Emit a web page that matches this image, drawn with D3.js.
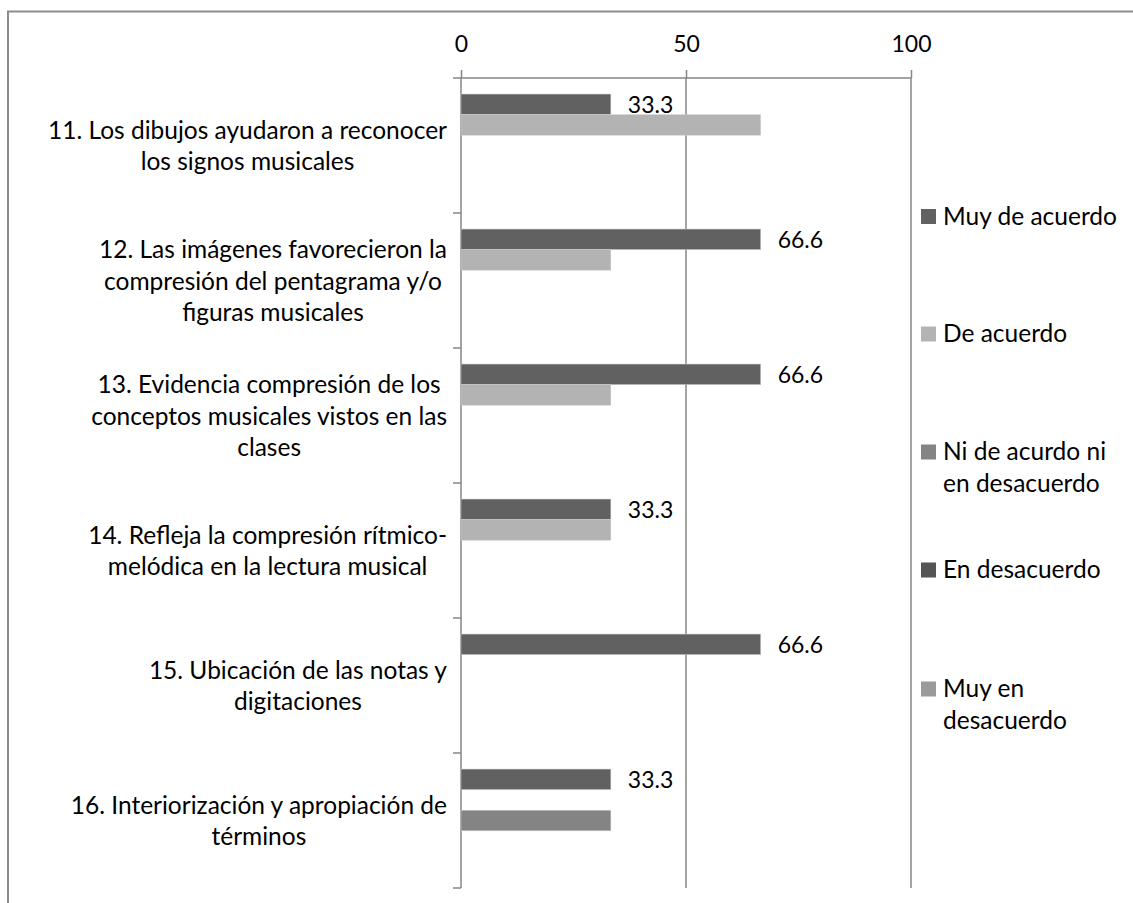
<!DOCTYPE html>
<html><head><meta charset="utf-8">
<script src="https://cdn.jsdelivr.net/npm/d3@7"></script>
<style>html,body{margin:0;padding:0;background:#fff;overflow:hidden}</style>
</head><body>
<script>
const categories = [
  ["11. Los dibujos ayudaron a reconocer","los signos musicales"],
  ["12. Las imágenes favorecieron la","compresión del pentagrama y/o","figuras musicales"],
  ["13. Evidencia compresión de los","conceptos musicales vistos en las","clases"],
  ["14. Refleja la compresión rítmico-","melódica en la lectura musical"],
  ["15. Ubicación de las notas y","digitaciones"],
  ["16. Interiorización y apropiación de","términos"]
];
const seriesNames = [
  ["Muy de acuerdo"],
  ["De acuerdo"],
  ["Ni de acurdo ni","en desacuerdo"],
  ["En desacuerdo"],
  ["Muy en","desacuerdo"]
];
const muyDeAcuerdo   = [33.3, 66.6, 66.6, 33.3, 66.6, 33.3];
const deAcuerdo      = [66.6, 33.3, 33.3, 33.3, 0, 0];
const niDeAcuerdo    = [0, 0, 0, 0, 0, 33.3];
const enDesacuerdo   = [0, 0, 0, 0, 0, 0];
const muyEnDesacuerdo= [0, 0, 0, 0, 0, 0];
const seriesValues = [muyDeAcuerdo, deAcuerdo, niDeAcuerdo, enDesacuerdo, muyEnDesacuerdo];
const labeledSeries = [true, false, false, false, false];
const xTicks = [0, 50, 100];
const colors = ["#616161", "#b3b3b3", "#848484", "#555555", "#9a9a9a"];

const W = 1133, H = 903;
const FONT = "Lato, 'Open Sans', sans-serif";
const FS = 24.5;   // text labels
const FN = 23;     // numbers
const svg = d3.select("body").append("svg").attr("width", W).attr("height", H)
  .style("font-family", FONT);

// outer chart border (extends off-canvas)
svg.append("rect").attr("x", 8).attr("y", 11.5).attr("width", 1200).attr("height", 1000)
  .attr("fill", "none").attr("stroke", "#8c8c8c").attr("stroke-width", 2);

const plot = {left: 461, right: 911, top: 78, bottom: 888};
const x = d3.scaleLinear().domain([0, 100]).range([plot.left, plot.right]);
const y = d3.scaleBand().domain(d3.range(categories.length)).range([plot.top, plot.bottom]);
const inner = d3.scaleBand().domain(d3.range(seriesNames.length))
  .range([0, y.bandwidth()]).paddingOuter(0.78).paddingInner(0);

// gridlines
svg.append("g").selectAll("line").data(xTicks.slice(1)).join("line")
  .attr("x1", d => x(d)).attr("x2", d => x(d))
  .attr("y1", plot.top).attr("y2", plot.bottom)
  .attr("stroke", "#868686").attr("stroke-width", 1.5);

// top axis
const xAxis = d3.axisTop(x).tickValues(xTicks).tickSize(8).tickPadding(18).tickFormat(d3.format("d"));
const gx = svg.append("g").attr("transform", `translate(0,${plot.top})`).call(xAxis);
gx.select(".domain").attr("stroke", "#868686").attr("stroke-width", 1.5).attr("d", `M${plot.left},0H${plot.right}`);
gx.selectAll(".tick line").attr("stroke", "#868686").attr("stroke-width", 1.5);
gx.selectAll(".tick text").attr("font-size", FN).attr("font-family", FONT).attr("fill", "#000");

// left axis line and ticks at band boundaries
const bounds = d3.range(categories.length + 1).map(i => plot.top + i * y.step());
svg.append("line").attr("x1", plot.left).attr("x2", plot.left).attr("y1", plot.top).attr("y2", plot.bottom)
  .attr("stroke", "#868686").attr("stroke-width", 1.5);
svg.append("g").selectAll("line").data(bounds).join("line")
  .attr("x1", plot.left - 8).attr("x2", plot.left).attr("y1", d => d).attr("y2", d => d)
  .attr("stroke", "#868686").attr("stroke-width", 1.5);

// bars
const barData = [];
seriesValues.forEach((vals, s) => vals.forEach((v, c) => { if (v > 0) barData.push({s, c, v}); }));
svg.append("g").selectAll("rect").data(barData).join("rect")
  .attr("x", x(0)).attr("y", d => y(d.c) + inner(d.s))
  .attr("width", d => x(d.v) - x(0)).attr("height", inner.bandwidth())
  .attr("fill", d => colors[d.s]).attr("stroke", "#d0d0d0").attr("stroke-width", 0.5);

// value labels
svg.append("g").selectAll("text").data(barData.filter(d => labeledSeries[d.s])).join("text")
  .attr("x", d => x(d.v) + 17).attr("y", d => y(d.c) + inner(d.s) + inner.bandwidth() / 2)
  .attr("dy", "0.36em").attr("font-size", FN).attr("fill", "#000")
  .text(d => d3.format(".1f")(d.v));

// category labels
const lh = 31.5;
const catG = svg.append("g");
categories.forEach((lines, i) => {
  const g = catG.append("g");
  const cy = y(i) + y.bandwidth() / 2 + 9;
  const t = g.selectAll("text").data(lines).join("text")
    .attr("font-size", FS).attr("fill", "#000").attr("text-anchor", "middle")
    .attr("y", (d, k) => cy + (k - (lines.length - 1) / 2) * lh)
    .text(d => d);
  let maxW = 0;
  t.each(function(){ maxW = Math.max(maxW, this.getComputedTextLength()); });
  t.attr("x", 447 - maxW / 2);
});

// legend
const legendY = [216.5, 334, 452, 570, 689];
const lg = svg.append("g");
seriesNames.forEach((lines, i) => {
  lg.append("rect").attr("x", 921).attr("y", legendY[i] - 7.5).attr("width", 15).attr("height", 15)
    .attr("fill", colors[i]);
  lg.append("g").selectAll("text").data(lines).join("text")
    .attr("x", 943).attr("y", (d, k) => legendY[i] + 8 + k * 32)
    .attr("font-size", FS).attr("fill", "#000").text(d => d);
});
</script>
</body></html>
